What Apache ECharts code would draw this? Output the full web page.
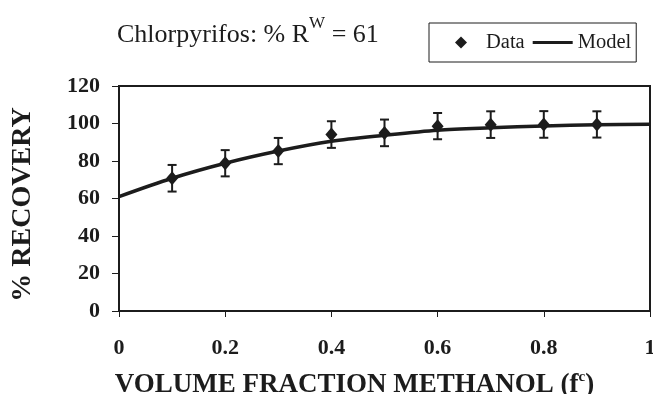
<!DOCTYPE html>
<html>
<head>
<meta charset="utf-8">
<script src="https://cdn.jsdelivr.net/npm/echarts@6/dist/echarts.min.js"></script>
<style>
  html, body { margin: 0; padding: 0; background: #fff; }
  #chart { width: 653px; height: 394px; }
</style>
</head>
<body>
<div id="chart"></div>
<script>
// ─── Data ────────────────────────────────────────
const fractions = [0.1, 0.2, 0.3, 0.4, 0.5, 0.6, 0.7, 0.8, 0.9];
const recovery = [70.8, 78.8, 85.3, 94.1, 95.0, 98.6, 99.4, 99.5, 99.5];
const errors = [7.1, 7.0, 7.0, 7.1, 7.1, 7.0, 7.1, 7.1, 7.0];
const modelX = [0, 0.1, 0.2, 0.3, 0.4, 0.5, 0.6, 0.7, 0.8, 0.9, 1.0];
const modelY = [61, 70.8, 78.8, 85.3, 90.5, 93.7, 96.4, 97.7, 98.7, 99.3, 99.6];

const ink = '#1c1c1c';
const serif = "'Liberation Serif', 'Times New Roman', serif";

const chart = echarts.init(document.getElementById('chart'));

chart.setOption({
  animation: false,
  title: {
    text: '{a|Chlorpyrifos: % R}{s|W}{a| = 61}',
    left: 112,
    top: 10,
    textStyle: {
      rich: {
        a: { fontFamily: serif, fontSize: 26, fontWeight: 'normal', color: ink, lineHeight: 33, verticalAlign: 'bottom' },
        s: { fontFamily: serif, fontSize: 17, fontWeight: 'normal', color: ink, lineHeight: 17, verticalAlign: 'top' }
      }
    }
  },
  legend: {
    left: 429,
    top: 23,
    selectedMode: false,
    borderColor: ink,
    borderWidth: 1,
    borderRadius: 0,
    padding: [9, 5, 9, 26],
    itemGap: 8,
    itemWidth: 40,
    itemHeight: 12,
    textStyle: { fontFamily: serif, fontSize: 20.5, color: ink },
    data: [
      { name: 'Data', icon: 'path://M0,-1L1,0L0,1L-1,0Z' },
      { name: 'Model', icon: 'path://M0,0H40V3.2H0Z' }
    ]
  },
  grid: {
    left: 119,
    right: 3,
    top: 86,
    bottom: 83,
    outerBoundsMode: 'none',
    show: true,
    borderColor: ink,
    borderWidth: 2
  },
  xAxis: {
    type: 'value',
    min: 0,
    max: 1,
    interval: 0.2,
    name: '{b|VOLUME FRACTION METHANOL (f}{s|c}{b|)}',
    nameLocation: 'middle',
    nameGap: 59,
    nameTextStyle: {
      padding: [0, 60, 0, 0],
      rich: {
        b: { fontFamily: serif, fontSize: 27, fontWeight: 'bold', color: ink, lineHeight: 29, verticalAlign: 'bottom' },
        s: { fontFamily: serif, fontSize: 15, fontWeight: 'bold', color: ink, lineHeight: 15, verticalAlign: 'top' }
      }
    },
    axisLine: { lineStyle: { color: ink, width: 2 } },
    axisTick: { length: 6, lineStyle: { color: ink, width: 1 } },
    axisLabel: { margin: 26, fontFamily: serif, fontSize: 22, fontWeight: 'bold', color: ink },
    splitLine: { show: false }
  },
  yAxis: {
    type: 'value',
    min: 0,
    max: 120,
    interval: 20,
    name: '% RECOVERY',
    nameLocation: 'middle',
    nameGap: 82,
    nameTextStyle: { fontFamily: serif, fontSize: 28, fontWeight: 'bold', color: ink, padding: [0, 12, 0, 0] },
    axisLine: { show: true, lineStyle: { color: ink, width: 2 } },
    axisTick: { show: true, length: 7, lineStyle: { color: ink, width: 1 } },
    axisLabel: { margin: 19, fontFamily: serif, fontSize: 22, fontWeight: 'bold', color: ink },
    splitLine: { show: false }
  },
  series: [
    {
      name: 'Model',
      type: 'line',
      smooth: 0.3,
      symbol: 'none',
      data: modelX.map((x, i) => [x, modelY[i]]),
      lineStyle: { color: ink, width: 3.5 },
      itemStyle: { color: ink },
      z: 2
    },
    {
      type: 'custom',
      data: fractions.map((x, i) => [x, recovery[i] - errors[i], recovery[i] + errors[i]]),
      renderItem: function(params, api) {
        const lo = api.coord([api.value(0), api.value(1)]);
        const hi = api.coord([api.value(0), api.value(2)]);
        const w = 4.5;
        const style = { stroke: ink, lineWidth: 2 };
        return {
          type: 'group',
          children: [
            { type: 'line', shape: { x1: hi[0], y1: hi[1], x2: lo[0], y2: lo[1] }, style },
            { type: 'line', shape: { x1: hi[0] - w, y1: hi[1], x2: hi[0] + w, y2: hi[1] }, style },
            { type: 'line', shape: { x1: lo[0] - w, y1: lo[1], x2: lo[0] + w, y2: lo[1] }, style }
          ]
        };
      },
      z: 3
    },
    {
      name: 'Data',
      type: 'scatter',
      symbol: 'diamond',
      symbolSize: [12, 14],
      data: fractions.map((x, i) => [x, recovery[i]]),
      itemStyle: { color: ink, opacity: 1 },
      z: 4
    }
  ]
});
</script>
</body>
</html>
